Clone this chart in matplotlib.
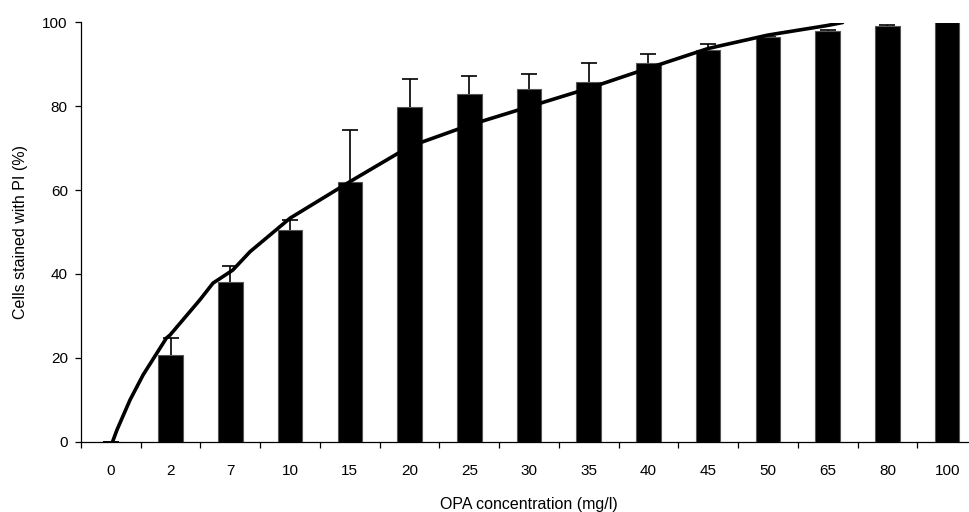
import matplotlib
matplotlib.use("Agg")
import matplotlib.pyplot as plt
import numpy as np

plt.rcParams['font.family'] = ['Liberation Sans', 'DejaVu Sans']

categories = ["0", "2", "7", "10", "15", "20", "25", "30", "35", "40", "45", "50", "65", "80", "100"]
values = [0, 20.6, 38.1, 50.5, 62.0, 79.9, 82.9, 84.1, 85.9, 90.4, 93.4, 96.5, 98.0, 99.1, 100.0]
err_top = [0, 24.6, 41.9, 52.9, 74.3, 86.5, 87.3, 87.8, 90.4, 92.6, 94.9, 96.6, 98.3, 99.4, 100.0]

# fitted curve (x in category-index units, y in %)
curve_x = [0.03, 0.10, 0.32, 0.54, 0.93, 0.99, 1.49, 1.71, 2.04, 2.33, 3.0, 4.0, 5.0, 6.0, 7.0, 8.0, 9.0, 10.0, 11.0, 12.0, 12.25]
curve_y = [0.0, 2.7, 9.9, 15.9, 24.7, 25.4, 33.8, 37.8, 40.9, 45.3, 53.3, 62.0, 70.4, 75.5, 79.9, 84.3, 89.1, 93.8, 97.0, 99.3, 100.0]

fig = plt.figure(figsize=(9.7, 5.12), dpi=100)
ax = fig.add_axes([81 / 970, 70.5 / 512, 896 / 970, 419 / 512])

x = np.arange(len(categories))
err = [max(e - v, 0) for e, v in zip(err_top, values)]
ax.bar(x, values, width=0.41, color='black', edgecolor='#555555', linewidth=0.8, zorder=3)
# symmetric error bars; the lower half is hidden behind the black bars
ax.errorbar(x, values, yerr=err, fmt='none', ecolor='black',
            elinewidth=1.2, capsize=5.5, capthick=1.2, zorder=2)
ax.plot(curve_x, curve_y, color='black', linewidth=2.6, zorder=4, solid_capstyle='round')

ax.set_xlim(-0.5, len(categories) - 0.5)
ax.set_ylim(0, 100)
ax.set_yticks([0, 20, 40, 60, 80, 100])
ax.set_xticks(x)
ax.set_xticklabels(categories)
ax.set_xticks(np.arange(-0.5, len(categories), 1), minor=True)
ax.tick_params(axis='x', which='major', length=0, pad=16, labelsize=11)
ax.tick_params(axis='x', which='minor', length=4, width=0.9, direction='out')
ax.tick_params(axis='y', length=4, width=0.9, direction='out', pad=5.5, labelsize=11)

for s in ['top', 'right']:
    ax.spines[s].set_visible(False)
for s in ['left', 'bottom']:
    ax.spines[s].set_linewidth(0.9)

ax.set_ylabel("Cells stained with PI (%)", fontsize=11.5, labelpad=10)
ax.set_xlabel("OPA concentration (mg/l)", fontsize=11.5, labelpad=14)

fig.savefig("out.png", dpi=100)
